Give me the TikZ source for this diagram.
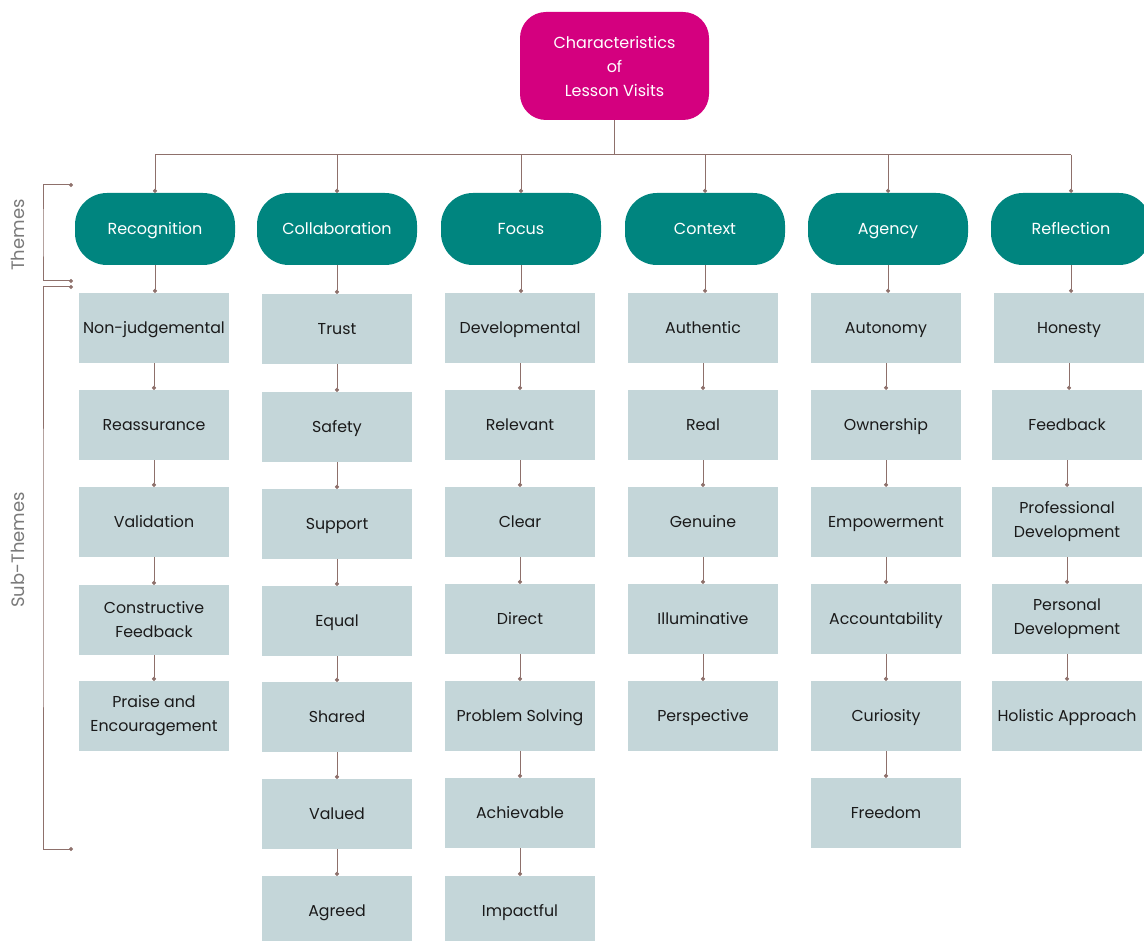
\documentclass[tikz,border=0pt]{standalone}
\usepackage{fontspec}
\setmainfont{Poppins}
\usetikzlibrary{arrows.meta}
\definecolor{rootc}{HTML}{D4007F}
\definecolor{themec}{HTML}{00857F}
\definecolor{subc}{HTML}{C4D6D9}
\definecolor{linec}{HTML}{8E706B}
\definecolor{txtc}{HTML}{1A1A1A}
\definecolor{sidec}{HTML}{7A7A7A}
\tikzset{
  rootbox/.style={fill=rootc, rounded corners=26pt, minimum width=189pt, minimum height=108pt, text=white, align=center, font=\fontsize{16}{24}\selectfont, inner sep=0pt},
  themebox/.style={fill=themec, rounded corners=32pt, minimum width=160pt, minimum height=72pt, text=white, font=\fontsize{16}{20}\selectfont, inner sep=0pt, text height=15pt, text depth=4pt},
  subbox/.style={fill=subc, minimum width=150pt, minimum height=70pt, text=txtc, align=center, font=\fontsize{15.8}{24}\selectfont, inner sep=0pt},
  one/.style={text height=15pt, text depth=4pt},
  conn/.style={draw=linec, line width=1pt, -{Circle[length=4pt]}},
  plain/.style={draw=linec, line width=1pt},
  sidelabel/.style={text=sidec, font=\fontsize{18}{20}\selectfont, rotate=90}
}
\begin{document}
\begin{tikzpicture}[x=1pt, y=-1pt]
\useasboundingbox (0,0) rectangle (1144,941);
\clip (0,0) rectangle (1144,941);
% root
\node[rootbox] (root) at (614.5,66) {Characteristics\\of\\Lesson Visits};
\coordinate (bus) at (614.5,155);
\draw[plain] (root.south) -- (bus);
\coordinate (busL) at (155,155);
\coordinate (busR) at (1071,155);
\draw[plain] (busL) -- (busR);
% themes
\foreach \name/\x/\label in {t1/155/Recognition, t2/337/Collaboration, t3/521/Focus, t4/705/Context, t5/888/Agency, t6/1071/Reflection}{
  \node[themebox] (\name) at (\x,229) {\label};
  \coordinate (\name bus) at (\x,155);
  \draw[conn] (\name bus) -- (\name.north);
}
% column 1
\node[subbox,one] (c1r1) at (154,328) {Non-judgemental};
\node[subbox,one] (c1r2) at (154,425) {Reassurance};
\node[subbox,one] (c1r3) at (154,522) {Validation};
\node[subbox] (c1r4) at (154,620) {Constructive\\Feedback};
\node[subbox] (c1r5) at (154,716) {Praise and\\Encouragement};
% column 2
\node[subbox,one] (c2r1) at (337,329) {Trust};
\node[subbox,one] (c2r2) at (337,427) {Safety};
\node[subbox,one] (c2r3) at (337,524) {Support};
\node[subbox,one] (c2r4) at (337,621) {Equal};
\node[subbox,one] (c2r5) at (337,717) {Shared};
\node[subbox,one] (c2r6) at (337,814) {Valued};
\node[subbox,one] (c2r7) at (337,911) {Agreed};
% column 3
\node[subbox,one] (c3r1) at (520,328) {Developmental};
\node[subbox,one] (c3r2) at (520,425) {Relevant};
\node[subbox,one] (c3r3) at (520,522) {Clear};
\node[subbox,one] (c3r4) at (520,619) {Direct};
\node[subbox,one] (c3r5) at (520,716) {Problem Solving};
\node[subbox,one] (c3r6) at (520,813) {Achievable};
\node[subbox,one] (c3r7) at (520,911) {Impactful};
% column 4
\node[subbox,one] (c4r1) at (703,328) {Authentic};
\node[subbox,one] (c4r2) at (703,425) {Real};
\node[subbox,one] (c4r3) at (703,522) {Genuine};
\node[subbox,one] (c4r4) at (703,619) {Illuminative};
\node[subbox,one] (c4r5) at (703,716) {Perspective};
% column 5
\node[subbox,one] (c5r1) at (886,328) {Autonomy};
\node[subbox,one] (c5r2) at (886,425) {Ownership};
\node[subbox,one] (c5r3) at (886,522) {Empowerment};
\node[subbox,one] (c5r4) at (886,619) {Accountability};
\node[subbox,one] (c5r5) at (886,716) {Curiosity};
\node[subbox,one] (c5r6) at (886,813) {Freedom};
% column 6
\node[subbox,one] (c6r1) at (1069,328) {Honesty};
\node[subbox,one] (c6r2) at (1067,425) {Feedback};
\node[subbox] (c6r3) at (1067,522) {Professional\\Development};
\node[subbox] (c6r4) at (1067,619) {Personal\\Development};
\node[subbox,one] (c6r5) at (1067,716) {Holistic Approach};
% connectors theme -> first sub
\foreach \c in {1,...,6}{
  \draw[conn] (t\c.south) -- (t\c.south |- c\c r1.north);
}
% connectors within columns
\foreach \c/\n in {1/5, 2/7, 3/7, 4/5, 5/6, 6/5}{
  \pgfmathtruncatemacro{\last}{\n-1}
  \foreach \r in {1,...,\last}{
    \pgfmathtruncatemacro{\nx}{\r+1}
    \draw[conn] (c\c r\r.south) -- (c\c r\r.south |- c\c r\nx.north);
  }
}
% brackets
\coordinate (thA) at (73,185);
\coordinate (thB) at (73,281);
\coordinate (stA) at (73,287);
\coordinate (stB) at (73,849);
\draw[draw=linec, line width=1pt, {Circle[length=4pt]}-{Circle[length=4pt]}] (thA) -| (43,233) |- (thB);
\draw[draw=linec, line width=1pt, {Circle[length=4pt]}-{Circle[length=4pt]}] (stA) -| (43,568) |- (stB);
\node[sidelabel] (themesl) at (18,235) {Themes};
\node[sidelabel] (subthemesl) at (18,550) {Sub-Themes};
\end{tikzpicture}
\end{document}
